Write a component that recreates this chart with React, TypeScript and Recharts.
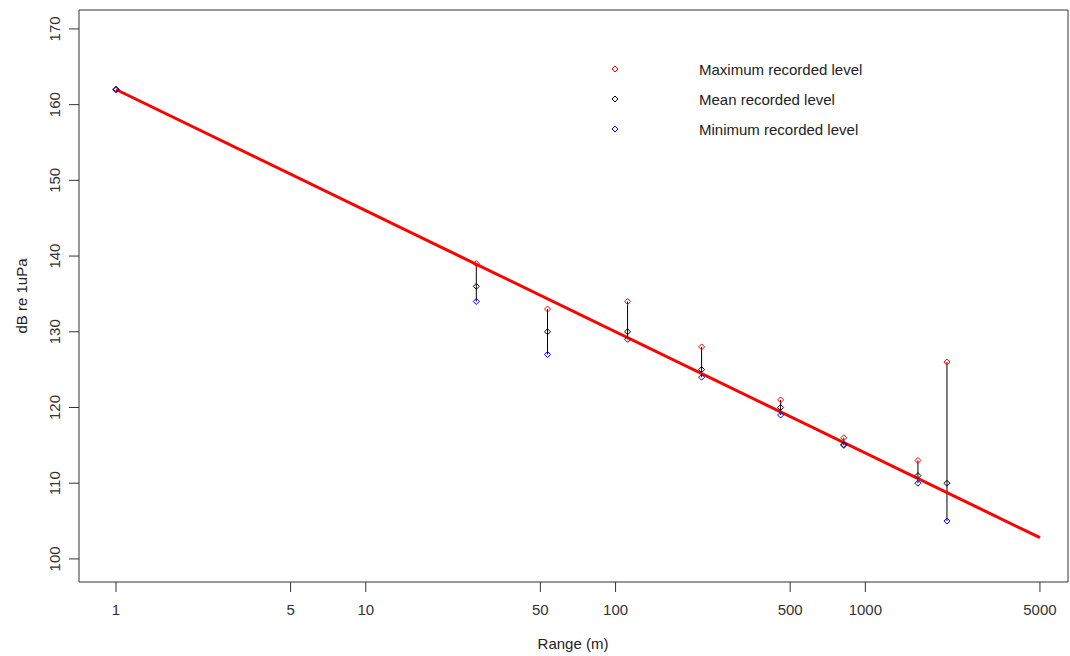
import React from 'react'
import { ComposedChart, Scatter, XAxis, YAxis, ReferenceArea } from 'recharts'

const ranges = [1, 27.7, 53.4, 111.7, 221, 458, 820, 1624, 2122]
const maxLevel = [162, 139, 133, 134, 128, 121, 116, 113, 126]
const meanLevel = [162, 136, 130, 130, 125, 120, 115.1, 111, 110]
const minLevel = [162, 134, 127, 129, 124, 119, 115, 110, 105]

const fitRange = [1, 5000]
const fitLevel = [162, 102.8]

const xTicks = [1, 5, 10, 50, 100, 500, 1000, 5000]
const yTicks = [100, 110, 120, 130, 140, 150, 160, 170]

const X_DOMAIN = [0.711, 6476]
const Y_DOMAIN = [96.95, 172.5]

const FONT = '"Liberation Sans", Arial, sans-serif'
const INK = '#333'

const toPoints = (ys: number[]) => ranges.map((x, i) => ({ x, y: ys[i] }))
const maxData = toPoints(maxLevel)
const meanData = toPoints(meanLevel)
const minData = toPoints(minLevel)
const fitData = fitRange.map((x, i) => ({ x, y: fitLevel[i] }))
// min-to-max whiskers, one two-point series per range
const whiskers = ranges.map((x, i) => [
  { x, y: minLevel[i] },
  { x, y: maxLevel[i] },
])

const diamond = (color: string) => (props: any) => {
  const { cx, cy } = props
  if (cx == null || cy == null) return <g />
  const r = 3
  return (
    <path
      d={`M${cx},${cy - r}L${cx + r},${cy}L${cx},${cy + r}L${cx - r},${cy}Z`}
      fill="none"
      stroke={color}
      strokeWidth={1}
    />
  )
}

const noShape = () => <g />

const XTick = (props: any) => {
  const { x, payload } = props
  return (
    <text x={x} y={615} textAnchor="middle" fontSize={15} fill={INK} fontFamily={FONT}>
      {payload.value}
    </text>
  )
}

const YTick = (props: any) => {
  const { y, payload } = props
  const tx = 55
  return (
    <text
      x={tx}
      y={y}
      transform={`rotate(-90, ${tx}, ${y})`}
      textAnchor="middle"
      dominantBaseline="central"
      fontSize={15}
      fill={INK}
      fontFamily={FONT}
    >
      {payload.value}
    </text>
  )
}

const legendItems = [
  { label: 'Maximum recorded level', color: '#ff0000' },
  { label: 'Mean recorded level', color: '#000000' },
  { label: 'Minimum recorded level', color: '#0000ff' },
]

export default function App() {
  return (
    <div style={{ position: 'absolute', left: 0, top: 0, width: 1070, height: 656, fontFamily: FONT }}>
      <ComposedChart width={1070} height={656} margin={{ top: 10, right: 2, bottom: 0, left: 0 }}>
        <XAxis
          dataKey="x"
          type="number"
          scale="log"
          domain={X_DOMAIN}
          allowDataOverflow
          ticks={xTicks}
          tick={<XTick />}
          tickSize={10}
          tickLine={{ stroke: INK }}
          axisLine={false}
          height={74}
        />
        <YAxis
          dataKey="y"
          type="number"
          domain={Y_DOMAIN}
          allowDataOverflow
          ticks={yTicks}
          tick={<YTick />}
          tickSize={10}
          tickLine={{ stroke: INK }}
          axisLine={false}
          width={79}
        />
        <ReferenceArea
          x1={X_DOMAIN[0]}
          x2={X_DOMAIN[1]}
          y1={Y_DOMAIN[0]}
          y2={Y_DOMAIN[1]}
          fill="none"
          stroke={INK}
          strokeWidth={1}
          ifOverflow="visible"
        />
        {whiskers.map((seg, i) => (
          <Scatter
            key={i}
            data={seg}
            line={{ stroke: '#000', strokeWidth: 1 }}
            shape={noShape}
            isAnimationActive={false}
          />
        ))}
        <Scatter
          data={fitData}
          line={{ stroke: '#ff0000', strokeWidth: 3 }}
          shape={noShape}
          isAnimationActive={false}
        />
        <Scatter data={maxData} shape={diamond('#ff0000')} isAnimationActive={false} />
        <Scatter data={meanData} shape={diamond('#000000')} isAnimationActive={false} />
        <Scatter data={minData} shape={diamond('#0000ff')} isAnimationActive={false} />
      </ComposedChart>
      <svg width={300} height={90} style={{ position: 'absolute', left: 604, top: 55 }}>
        {legendItems.map((it, i) => {
          const cy = 14 + i * 30
          return (
            <g key={it.label}>
              {diamond(it.color)({ cx: 11, cy })}
              <text x={95} y={cy} dominantBaseline="central" fontSize={15} fill="#222" fontFamily={FONT}>
                {it.label}
              </text>
            </g>
          )
        })}
      </svg>
      <div
        style={{ position: 'absolute', left: 0, top: 635, width: 1146, textAlign: 'center', fontSize: 15, color: '#222' }}
      >
        Range (m)
      </div>
      <div
        style={{
          position: 'absolute',
          left: 21,
          top: 296,
          transform: 'translate(-50%, -50%) rotate(-90deg)',
          fontSize: 15,
          color: '#222',
          whiteSpace: 'nowrap',
        }}
      >
        dB re 1uPa
      </div>
    </div>
  )
}
